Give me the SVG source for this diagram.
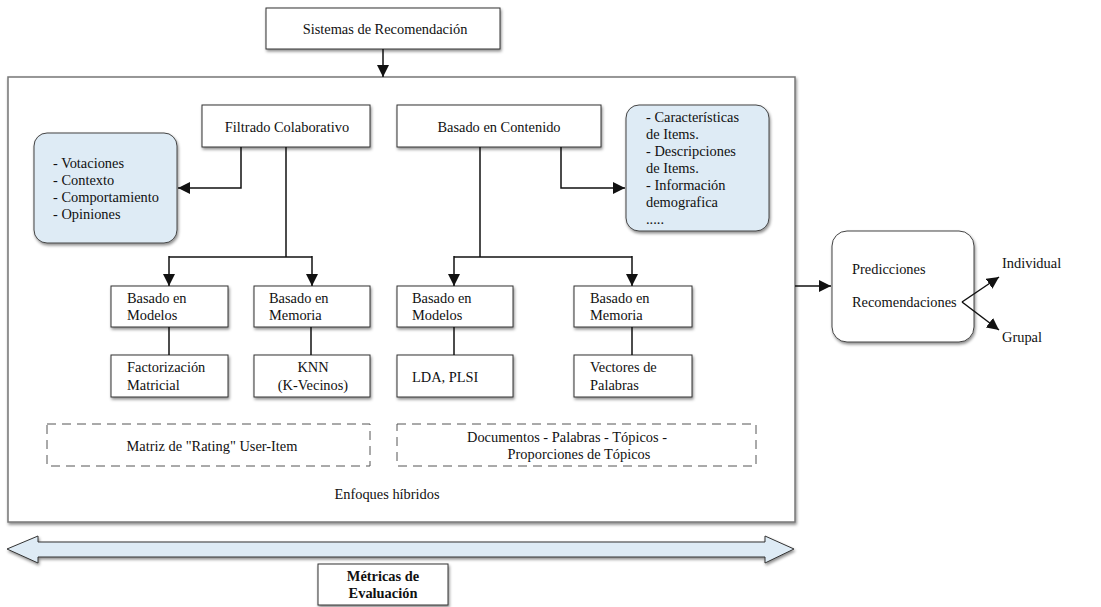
<svg xmlns="http://www.w3.org/2000/svg" width="1101" height="607" viewBox="0 0 1101 607" font-family="'Liberation Serif', 'Times New Roman', 'DejaVu Serif', serif">
<style>
text{font-family:'Liberation Serif','Times New Roman','DejaVu Serif',serif;font-size:14.4px;fill:#111}
.box{fill:#fff;stroke:#333;stroke-width:1}
.blue{fill:#deebf5;stroke:#444;stroke-width:1}
.dash{fill:none;stroke:#555;stroke-width:1;stroke-dasharray:9 6}
.ln{fill:none;stroke:#111;stroke-width:1.5}
.c{text-anchor:middle}
</style>
<defs>
<filter id="sh" x="-10%" y="-10%" width="130%" height="140%">
<feDropShadow dx="1" dy="2" stdDeviation="1.5" flood-color="#000" flood-opacity="0.45"/>
</filter>
<marker id="ar" markerUnits="userSpaceOnUse" markerWidth="12" markerHeight="12" viewBox="0 0 12 12" refX="12" refY="6" orient="auto">
<path d="M0,0 L12,6 L0,12 Z" fill="#111"/>
</marker>
</defs>

<g id="container">
<rect x="8" y="77" width="787" height="445" fill="#fff" stroke="#777" stroke-width="1.5" filter="url(#sh)"/>
<text x="387" y="499" class="c">Enfoques híbridos</text>
</g>

<g id="sistemas">
<rect class="box" x="266" y="8" width="234" height="41" filter="url(#sh)"/>
<text x="385" y="34" class="c">Sistemas de Recomendación</text>
</g>

<g id="filtrado">
<rect class="box" x="202" y="105" width="168" height="42" filter="url(#sh)"/>
<text x="287" y="132" class="c">Filtrado Colaborativo</text>
</g>

<g id="contenido">
<rect class="box" x="397" y="105" width="204" height="42" filter="url(#sh)"/>
<text x="499" y="132" class="c">Basado en Contenido</text>
</g>

<g id="blue-left">
<rect class="blue" x="34" y="133" width="143" height="110" rx="13" filter="url(#sh)"/>
<text x="53" y="168">- Votaciones</text>
<text x="53" y="185">- Contexto</text>
<text x="53" y="202">- Comportamiento</text>
<text x="53" y="219">- Opiniones</text>
</g>

<g id="blue-right">
<rect class="blue" x="626" y="105" width="143" height="126" rx="13" filter="url(#sh)"/>
<text x="646" y="122">- Características</text>
<text x="646" y="139">de Items.</text>
<text x="646" y="156">- Descripciones</text>
<text x="646" y="173">de Items.</text>
<text x="646" y="190">- Información</text>
<text x="646" y="207">demografica</text>
<text x="646" y="224">.....</text>
</g>

<g id="modelos-cf">
<rect class="box" x="111" y="286" width="117" height="41" filter="url(#sh)"/>
<text x="127" y="303">Basado en</text>
<text x="127" y="320">Modelos</text>
</g>
<g id="memoria-cf">
<rect class="box" x="254" y="286" width="116" height="41" filter="url(#sh)"/>
<text x="269" y="303">Basado en</text>
<text x="269" y="320">Memoria</text>
</g>
<g id="modelos-cb">
<rect class="box" x="397" y="286" width="116" height="41" filter="url(#sh)"/>
<text x="412" y="303">Basado en</text>
<text x="412" y="320">Modelos</text>
</g>
<g id="memoria-cb">
<rect class="box" x="574" y="286" width="118" height="41" filter="url(#sh)"/>
<text x="590" y="303">Basado en</text>
<text x="590" y="320">Memoria</text>
</g>

<g id="factorizacion">
<rect class="box" x="111" y="355" width="117" height="42" filter="url(#sh)"/>
<text x="127" y="372">Factorización</text>
<text x="127" y="390">Matricial</text>
</g>
<g id="knn">
<rect class="box" x="254" y="355" width="116" height="42" filter="url(#sh)"/>
<text x="313" y="372" class="c">KNN</text>
<text x="313" y="390" class="c">(K-Vecinos)</text>
</g>
<g id="lda">
<rect class="box" x="397" y="355" width="116" height="42" filter="url(#sh)"/>
<text x="412" y="382">LDA, PLSI</text>
</g>
<g id="vectores">
<rect class="box" x="574" y="355" width="118" height="42" filter="url(#sh)"/>
<text x="590" y="372">Vectores de</text>
<text x="590" y="390">Palabras</text>
</g>

<g id="matriz">
<rect class="dash" x="47" y="424" width="323" height="42"/>
<text x="212" y="451" class="c">Matriz de "Rating" User-Item</text>
</g>
<g id="documentos">
<rect class="dash" x="397" y="424" width="359" height="42"/>
<text x="567" y="442" class="c">Documentos - Palabras - Tópicos -</text>
<text x="579" y="459" class="c">Proporciones de Tópicos</text>
</g>

<g id="predicciones">
<rect x="832" y="231" width="142" height="111" rx="15" fill="#fff" stroke="#444" stroke-width="1" filter="url(#sh)"/>
<text x="852" y="274">Predicciones</text>
<text x="852" y="307">Recomendaciones</text>
</g>

<g id="individual"><text x="1002" y="268">Individual</text></g>
<g id="grupal"><text x="1002" y="342">Grupal</text></g>

<g id="metricas-arrow">
<path d="M7,549 L38,536 L38,542 L765,542 L765,536 L794,549 L765,563 L765,557 L38,557 L38,563 Z" fill="#deebf5" stroke="#333" stroke-width="1" filter="url(#sh)"/>
</g>

<g id="metricas">
<rect class="box" x="318" y="564" width="130" height="41" filter="url(#sh)"/>
<text x="383" y="581" class="c" font-weight="bold">Métricas de</text>
<text x="383" y="598" class="c" font-weight="bold">Evaluación</text>
</g>

<g id="connectors">
<line class="ln" x1="383" y1="49" x2="383" y2="77" marker-end="url(#ar)"/>
<polyline class="ln" points="241,147 241,188 178,188" marker-end="url(#ar)"/>
<polyline class="ln" points="561,147 561,188 625,188" marker-end="url(#ar)"/>
<line class="ln" x1="286" y1="147" x2="286" y2="257"/>
<line class="ln" x1="169" y1="257" x2="312" y2="257"/>
<line class="ln" x1="169" y1="256" x2="169" y2="286" marker-end="url(#ar)"/>
<line class="ln" x1="312" y1="256" x2="312" y2="286" marker-end="url(#ar)"/>
<line class="ln" x1="480" y1="147" x2="480" y2="257"/>
<line class="ln" x1="454" y1="257" x2="632" y2="257"/>
<line class="ln" x1="454" y1="256" x2="454" y2="286" marker-end="url(#ar)"/>
<line class="ln" x1="632" y1="256" x2="632" y2="286" marker-end="url(#ar)"/>
<line class="ln" x1="169" y1="327" x2="169" y2="355"/>
<line class="ln" x1="311" y1="327" x2="311" y2="355"/>
<line class="ln" x1="454" y1="327" x2="454" y2="355"/>
<line class="ln" x1="632" y1="327" x2="632" y2="355"/>
<line class="ln" x1="795" y1="286" x2="831" y2="286" marker-end="url(#ar)"/>
<line class="ln" x1="962" y1="302" x2="999" y2="277" marker-end="url(#ar)"/>
<line class="ln" x1="962" y1="302" x2="999" y2="330" marker-end="url(#ar)"/>
</g>
</svg>
